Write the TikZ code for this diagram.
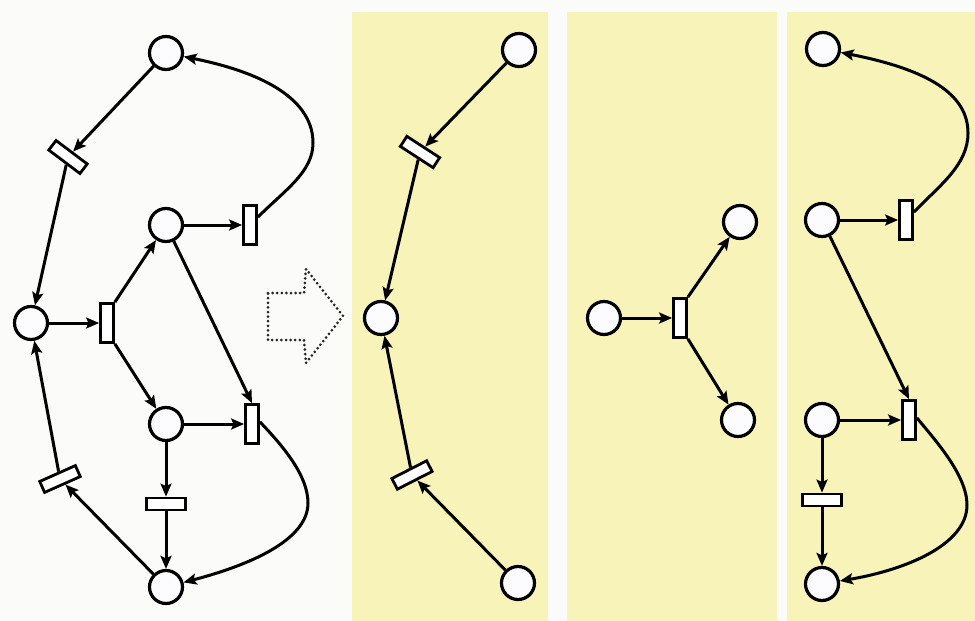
\documentclass[tikz,border=0pt]{standalone}
\usetikzlibrary{arrows.meta}
\definecolor{paper}{RGB}{251,251,250}
\definecolor{panel}{RGB}{248,243,184}
\definecolor{placefill}{RGB}{252,252,254}
\tikzset{
  place/.style={circle, draw=black, line width=3.2pt, fill=placefill,
    minimum size=33pt, inner sep=0pt},
  vtrans/.style={rectangle, draw=black, line width=2.8pt, fill=white,
    minimum width=13pt, minimum height=39pt, inner sep=0pt},
  htrans/.style={rectangle, draw=black, line width=2.8pt, fill=white,
    minimum width=39pt, minimum height=12pt, inner sep=0pt},
  arc/.style={draw=black, line width=3pt,
    -{Stealth[length=13pt,width=11pt,inset=2.5pt]}},
  hollowarrow/.style={draw=black!85, line width=3pt, line cap=round,
    dash pattern=on 0pt off 4.6pt, line join=round},
}
\begin{document}
\begin{tikzpicture}[x=1pt,y=-1pt]
\useasboundingbox (0,0) rectangle (975,621);
\fill[paper] (0,0) rectangle (975,621);

% shaded panels on the right
\fill[panel] (352,12) rectangle (548,621);
\fill[panel] (567,12) rectangle (777,621);
\fill[panel] (787,12) rectangle (975,621);

% ---------- complete net ----------
\node[place] (a1) at (166,53) {};
\node[htrans, rotate=-37] (at1) at (68,157) {};
\node[place] (a2) at (31,323) {};
\node[vtrans] (at2) at (107,323) {};
\node[place] (a3) at (166,225) {};
\node[vtrans] (at3) at (250,225) {};
\node[place] (a4) at (166,424) {};
\node[vtrans] (at4) at (252,424) {};
\node[htrans] (at5) at (166,504) {};
\node[place] (a5) at (166,587) {};
\node[htrans, rotate=24] (at6) at (60,479) {};

\draw[arc] (a1) -- (at1);
\draw[arc] (at1) -- (a2);
\draw[arc] (a2) -- (at2);
\draw[arc] (at2.north east) -- (a3);
\draw[arc] (at2.south east) -- (a4);
\draw[arc] (a3) -- (at3);
\draw[arc] (a3) -- (at4.north);
\draw[arc] (a4) -- (at4);
\draw[arc] (a4) -- (at5);
\draw[arc] (at5) -- (a5);
\draw[arc] (a5) -- (at6);
\draw[arc] (at6) -- (a2);
\draw[arc] (at3.45) .. controls (285,190) and (313,172) .. (313,143)
  .. controls (313,105) and (275,75) .. (a1);
\draw[arc] (at4.15) .. controls (282,445) and (308,475) .. (308,503)
  .. controls (308,540) and (250,565) .. (a5);

% ---------- dotted decomposition arrow ----------
\draw[hollowarrow] (268,293) -- (304,293) -- (306,269) -- (343,316)
  -- (306,363) -- (304,340) -- (268,340) -- cycle;

% ---------- first part ----------
\node[place] (b1) at (519,50) {};
\node[htrans, rotate=-33] (bt1) at (420,152) {};
\node[place] (b2) at (381,318) {};
\node[htrans, rotate=27] (bt2) at (412,475) {};
\node[place] (b5) at (518,583) {};

\draw[arc] (b1) -- (bt1);
\draw[arc] (bt1) -- (b2);
\draw[arc] (b5) -- (bt2);
\draw[arc] (bt2) -- (b2);

% ---------- second part ----------
\node[place] (c2) at (604,318) {};
\node[vtrans] (ct2) at (680,318) {};
\node[place] (c3) at (740,222) {};
\node[place] (c4) at (738,420) {};

\draw[arc] (c2) -- (ct2);
\draw[arc] (ct2.north east) -- (c3);
\draw[arc] (ct2.south east) -- (c4);

% ---------- third part ----------
\node[place] (d1) at (823,49) {};
\node[place] (d3) at (822,220) {};
\node[vtrans] (dt3) at (906,220) {};
\node[place] (d4) at (822,420) {};
\node[vtrans] (dt4) at (909,420) {};
\node[htrans] (dt5) at (822,500) {};
\node[place] (d5) at (822,584) {};

\draw[arc] (d3) -- (dt3);
\draw[arc] (d3) -- (dt4.north);
\draw[arc] (d4) -- (dt4);
\draw[arc] (d4) -- (dt5);
\draw[arc] (dt5) -- (d5);
\draw[arc] (dt3.45) .. controls (940,185) and (968,165) .. (968,133)
  .. controls (968,95) and (930,70) .. (d1);
\draw[arc] (dt4.15) .. controls (935,440) and (967,475) .. (967,505)
  .. controls (967,545) and (905,570) .. (d5);
\end{tikzpicture}
\end{document}
